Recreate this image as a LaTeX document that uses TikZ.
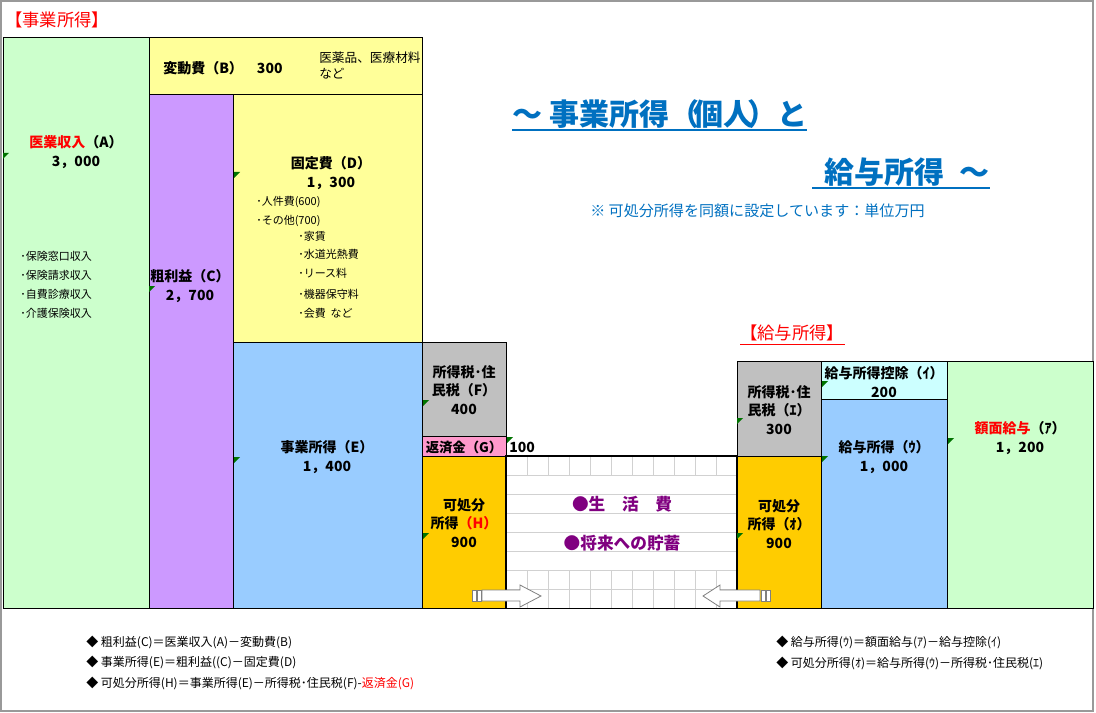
\documentclass[tikz,border=0pt]{standalone}
\usepackage{fontspec}
\setmainfont{Noto Sans CJK JP}
\usepackage{tikz}
\usetikzlibrary{positioning}
\definecolor{cellgreen}{HTML}{CCFFCC}
\definecolor{cellyellow}{HTML}{FFFF99}
\definecolor{cellpurple}{HTML}{CC99FF}
\definecolor{cellblue}{HTML}{99CCFF}
\definecolor{cellgray}{HTML}{C0C0C0}
\definecolor{cellpink}{HTML}{FF99CC}
\definecolor{cellorange}{HTML}{FFCC00}
\definecolor{cellcyan}{HTML}{CCFFFF}
\definecolor{titleblue}{HTML}{0070C0}
\definecolor{lifepurple}{HTML}{800080}

\begin{document}
\begin{tikzpicture}[
    x=0.75pt, y=-0.75pt,
    cell/.style={draw=black, line width=0.75pt},
    lbl/.style={align=center, inner sep=0pt,
      font=\fontsize{10.5}{14}\selectfont\bfseries},
    memo/.style={align=left, inner sep=0pt, anchor=west,
      font=\fontsize{8.25}{11}\selectfont},
    fml/.style={anchor=west, inner sep=0pt, font=\fontsize{9}{11}\selectfont},
    head/.style={inner sep=0pt, text=red, font=\fontsize{13}{15}\selectfont},
    title/.style={inner sep=0pt, text=titleblue,
      font=\fontsize{22.5}{26}\selectfont\bfseries},
    uline/.style={line width=1.5pt, draw=titleblue},
    life/.style={inner sep=0pt, text=lifepurple,
      font=\fontsize{12.5}{15}\selectfont\bfseries},
    gridline/.style={draw=black!18, line width=0.6pt},
    blk/.style={fill=white, draw=black!50, line width=0.6pt},
    cmt/.style={fill=green!45!black}
]
\useasboundingbox (0,0) rectangle (1096,713);
\draw[draw=black!40, line width=1.5pt] (1,1) rectangle (1093,711);

\node[head, anchor=west] (hdJigyo) at (5,20) {【事業所得】};
\filldraw[cell, fill=cellgreen]  (3,38) rectangle (149,608);
\filldraw[cell, fill=cellyellow] (149,38) rectangle (422,95);
\filldraw[cell, fill=cellpurple] (149,95) rectangle (233,608);
\filldraw[cell, fill=cellyellow] (233,95) rectangle (422,342);
\filldraw[cell, fill=cellblue]   (233,342) rectangle (422,608);
\filldraw[cell, fill=cellgray]   (422,342) rectangle (506,436);
\filldraw[cell, fill=cellpink]   (422,436) rectangle (506,456);
\filldraw[cell, fill=cellorange] (422,456) rectangle (506,608);

\fill[white] (506,456) rectangle (737,608);
\foreach \y in {475,494,...,589}
  \draw[gridline] (506,\y) -- (737,\y);
\foreach \x in {527,548,...,716}{
  \draw[gridline] (\x,456) -- (\x,475);
  \draw[gridline] (\x,570) -- (\x,608);
}

\node[head, anchor=west] (hdKyuyo) at (740,333) {【給与所得】};
\draw[red, line width=0.75pt] ([yshift=-2pt]hdKyuyo.south west)
  -- ([yshift=-2pt]hdKyuyo.south east);
\filldraw[cell, fill=cellgray]   (737,361) rectangle (821,456);
\filldraw[cell, fill=cellorange] (737,456) rectangle (821,608);
\filldraw[cell, fill=cellcyan]   (821,361) rectangle (947,399);
\filldraw[cell, fill=cellblue]   (821,399) rectangle (947,608);
\filldraw[cell, fill=cellgreen]  (947,361) rectangle (1093,608);

\draw[line width=1.5pt] (506,608) -- (506,456) -- (737,456) -- (737,608);
\draw[line width=0.75pt] (3,608) -- (1093,608);

\foreach \x/\y in {3/153,149/286,234/172,234/457,423/400,507/437,423/533,
                   737/418,822/381,822/456,948/438,737/533}
  \fill[cmt] (\x,\y) -- ++(6,0) -- ++(-6,6) -- cycle;

% block arrows
\draw[blk] (482,590) -- (520,590) -- (520,585) -- (541,596) -- (520,607)
  -- (520,601) -- (482,601) -- cycle;
\draw[blk] (472,590) rectangle (476,601);
\draw[blk] (477,590) rectangle (481,601);
\draw[blk] (760,590) -- (720,590) -- (720,585) -- (703,596) -- (720,607)
  -- (720,601) -- (760,601) -- cycle;
\draw[blk] (761,590) rectangle (765,601);
\draw[blk] (766,590) rectangle (770,601);

\node[lbl] (lblA) at (76,152) {{\color{red}医業収入}（A）\\3，000};
\foreach \y/\txt in {256/保険窓口収入,275/保険請求収入,294/自費診療収入,313/介護保険収入}
  \node[memo] at (20,\y) {･\txt};
\node[lbl, anchor=west] (lblB) at (163,68) {変動費（B）\quad 300};
\node[memo, anchor=north west, font=\fontsize{9.5}{12}\selectfont]
  (memoB) at (319,52) {医薬品、医療材料\\など};
\node[lbl] (lblC) at (190,286) {粗利益（C）\\2，700};
\node[lbl] (lblD) at (331,173) {固定費（D）\\1，300};
\node[memo] at (256,202) {･人件費(600)};
\node[memo] at (256,221) {･その他(700)};
\foreach \y/\txt in {236/家賃,254/水道光熱費,273/リース料,294/機器保守料,313/会費\ \ など}
  \node[memo] at (298,\y) {･\txt};
\node[lbl] (lblE) at (327,457) {事業所得（E）\\1，400};
\node[lbl] (lblF) at (464,390) {所得税･住\\民税（F）\\400};
\node[lbl, font=\fontsize{10}{12}\selectfont\bfseries] (lblG) at (464,447) {返済金（G）};
\node[lbl, anchor=west] (lblGv) at (509,447) {100};
\node[lbl] (lblH) at (464,523) {可処分\\所得{\color{red}（H）}\\900};
\node[life] (life1) at (622,504) {●生　活　費};
\node[life] (life2) at (622,543) {●将来への貯蓄};

\node[lbl] (lblI) at (779,410) {所得税･住\\民税（ｴ）\\300};
\node[lbl] (lblO) at (779,524) {可処分\\所得（ｵ）\\900};
\node[lbl] (lblKo) at (884,382) {給与所得控除（ｲ）\\200};
\node[lbl] (lblU) at (884,457) {給与所得（ｳ）\\1，000};
\node[lbl] (lblAm) at (1020,438) {{\color{red}額面給与}（ｱ）\\1，200};

\node[title, anchor=base west] (ttl1) at (512,126)
  {～ 事業所得（\kern-0.2em 個人\kern-0.2em）と};
\draw[uline] ([yshift=-3pt]ttl1.base west) -- ([yshift=-3pt]ttl1.base east);
\node[title, anchor=base west] (ttl2) at (812,184)
  {\hspace{0.4em}給与所得\hspace{0.5em}～\hspace{0.05em}};
\draw[uline] ([yshift=-3pt]ttl2.base west) -- ([yshift=-3pt]ttl2.base east);
\node[inner sep=0pt, anchor=west, text=titleblue, font=\fontsize{11.3}{13}\selectfont]
  (note) at (590,211) {※ 可処分所得を同額に設定しています：単位万円};

\node[fml] (f1) at (86,642) {◆ 粗利益(C)＝医業収入(A)－変動費(B)};
\node[fml] (f2) at (86,662) {◆ 事業所得(E)＝粗利益((C)－固定費(D)};
\node[fml] (f3) at (86,683) {◆ 可処分所得(H)＝事業所得(E)－所得税･住民税(F)-{\color{red}返済金(G)}};
\node[fml] (f4) at (776,642) {◆ 給与所得(ｳ)＝額面給与(ｱ)－給与控除(ｲ)};
\node[fml] (f5) at (776,663) {◆ 可処分所得(ｵ)＝給与所得(ｳ)－所得税･住民税(ｴ)};
\end{tikzpicture}
\end{document}
